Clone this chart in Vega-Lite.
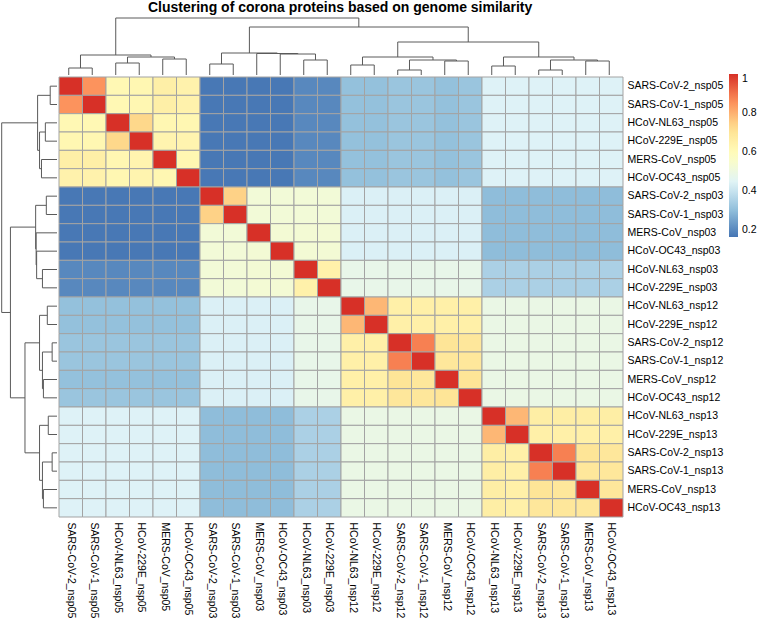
{
"$schema":"https://vega.github.io/schema/vega-lite/v6.json",
"padding":{"left":0,"top":0,"right":0,"bottom":0},
"background":"white",
"title":{"text":"Clustering of corona proteins based on genome similarity","anchor":"start","dx":148,"fontSize":14,"font":"Liberation Sans","fontWeight":"bold","color":"black","offset":3},
"config":{"view":{"stroke":null},"concat":{"spacing":0},"axis":{"labelFont":"Liberation Sans","labelFontSize":10.5,"labelColor":"black"},"legend":{"labelFont":"Liberation Sans"}},
"datasets":{
"dend":[
{"p1":0.5,"p2":0.5,"h1":0,"h2":7},{"p1":1.5,"p2":1.5,"h1":0,"h2":7},{"p1":0.5,"p2":1.5,"h1":7,"h2":7},
{"p1":2.5,"p2":2.5,"h1":0,"h2":12},{"p1":3.5,"p2":3.5,"h1":0,"h2":12},{"p1":2.5,"p2":3.5,"h1":12,"h2":12},
{"p1":4.5,"p2":4.5,"h1":0,"h2":16},{"p1":5.5,"p2":5.5,"h1":0,"h2":16},{"p1":4.5,"p2":5.5,"h1":16,"h2":16},
{"p1":3,"p2":3,"h1":12,"h2":18},{"p1":5,"p2":5,"h1":16,"h2":18},{"p1":3,"p2":5,"h1":18,"h2":18},
{"p1":1,"p2":1,"h1":7,"h2":20},{"p1":4,"p2":4,"h1":18,"h2":20},{"p1":1,"p2":4,"h1":20,"h2":20},
{"p1":6.5,"p2":6.5,"h1":0,"h2":11},{"p1":7.5,"p2":7.5,"h1":0,"h2":11},{"p1":6.5,"p2":7.5,"h1":11,"h2":11},
{"p1":10.5,"p2":10.5,"h1":0,"h2":15},{"p1":11.5,"p2":11.5,"h1":0,"h2":15},{"p1":10.5,"p2":11.5,"h1":15,"h2":15},
{"p1":9.5,"p2":9.5,"h1":0,"h2":21},{"p1":11,"p2":11,"h1":15,"h2":21},{"p1":9.5,"p2":11,"h1":21,"h2":21},
{"p1":8.5,"p2":8.5,"h1":0,"h2":21.5},{"p1":10.25,"p2":10.25,"h1":21,"h2":21.5},{"p1":8.5,"p2":10.25,"h1":21.5,"h2":21.5},
{"p1":7,"p2":7,"h1":11,"h2":22},{"p1":9.375,"p2":9.375,"h1":21.5,"h2":22},{"p1":7,"p2":9.375,"h1":22,"h2":22},
{"p1":12.5,"p2":12.5,"h1":0,"h2":10},{"p1":13.5,"p2":13.5,"h1":0,"h2":10},{"p1":12.5,"p2":13.5,"h1":10,"h2":10},
{"p1":14.5,"p2":14.5,"h1":0,"h2":5},{"p1":15.5,"p2":15.5,"h1":0,"h2":5},{"p1":14.5,"p2":15.5,"h1":5,"h2":5},
{"p1":16.5,"p2":16.5,"h1":0,"h2":14},{"p1":17.5,"p2":17.5,"h1":0,"h2":14},{"p1":16.5,"p2":17.5,"h1":14,"h2":14},
{"p1":15,"p2":15,"h1":5,"h2":15},{"p1":17,"p2":17,"h1":14,"h2":15},{"p1":15,"p2":17,"h1":15,"h2":15},
{"p1":13,"p2":13,"h1":10,"h2":18},{"p1":16,"p2":16,"h1":15,"h2":18},{"p1":13,"p2":16,"h1":18,"h2":18},
{"p1":18.5,"p2":18.5,"h1":0,"h2":9},{"p1":19.5,"p2":19.5,"h1":0,"h2":9},{"p1":18.5,"p2":19.5,"h1":9,"h2":9},
{"p1":20.5,"p2":20.5,"h1":0,"h2":5},{"p1":21.5,"p2":21.5,"h1":0,"h2":5},{"p1":20.5,"p2":21.5,"h1":5,"h2":5},
{"p1":22.5,"p2":22.5,"h1":0,"h2":14},{"p1":23.5,"p2":23.5,"h1":0,"h2":14},{"p1":22.5,"p2":23.5,"h1":14,"h2":14},
{"p1":21,"p2":21,"h1":5,"h2":15},{"p1":23,"p2":23,"h1":14,"h2":15},{"p1":21,"p2":23,"h1":15,"h2":15},
{"p1":19,"p2":19,"h1":9,"h2":18},{"p1":22,"p2":22,"h1":15,"h2":18},{"p1":19,"p2":22,"h1":18,"h2":18},
{"p1":14.5,"p2":14.5,"h1":18,"h2":33},{"p1":20.5,"p2":20.5,"h1":18,"h2":33},{"p1":14.5,"p2":20.5,"h1":33,"h2":33},
{"p1":8.1875,"p2":8.1875,"h1":22,"h2":48},{"p1":17.5,"p2":17.5,"h1":33,"h2":48},{"p1":8.1875,"p2":17.5,"h1":48,"h2":48},
{"p1":2.5,"p2":2.5,"h1":20,"h2":57},{"p1":12.84375,"p2":12.84375,"h1":48,"h2":57},{"p1":2.5,"p2":12.84375,"h1":57,"h2":57}
],
"cells":[
{"r":"SARS-CoV-2_nsp05","c":"SARS-CoV-2_nsp05","v":1},{"r":"SARS-CoV-2_nsp05","c":"SARS-CoV-1_nsp05","v":0.85},{"r":"SARS-CoV-2_nsp05","c":"HCoV-NL63_nsp05","v":0.615},{"r":"SARS-CoV-2_nsp05","c":"HCoV-229E_nsp05","v":0.62},{"r":"SARS-CoV-2_nsp05","c":"MERS-CoV_nsp05","v":0.655},{"r":"SARS-CoV-2_nsp05","c":"HCoV-OC43_nsp05","v":0.64},{"r":"SARS-CoV-2_nsp05","c":"SARS-CoV-2_nsp03","v":0.17},{"r":"SARS-CoV-2_nsp05","c":"SARS-CoV-1_nsp03","v":0.17},{"r":"SARS-CoV-2_nsp05","c":"MERS-CoV_nsp03","v":0.17},{"r":"SARS-CoV-2_nsp05","c":"HCoV-OC43_nsp03","v":0.17},{"r":"SARS-CoV-2_nsp05","c":"HCoV-NL63_nsp03","v":0.2},{"r":"SARS-CoV-2_nsp05","c":"HCoV-229E_nsp03","v":0.2},{"r":"SARS-CoV-2_nsp05","c":"HCoV-NL63_nsp12","v":0.31},{"r":"SARS-CoV-2_nsp05","c":"HCoV-229E_nsp12","v":0.31},{"r":"SARS-CoV-2_nsp05","c":"SARS-CoV-2_nsp12","v":0.32},{"r":"SARS-CoV-2_nsp05","c":"SARS-CoV-1_nsp12","v":0.32},{"r":"SARS-CoV-2_nsp05","c":"MERS-CoV_nsp12","v":0.31},{"r":"SARS-CoV-2_nsp05","c":"HCoV-OC43_nsp12","v":0.32},{"r":"SARS-CoV-2_nsp05","c":"HCoV-NL63_nsp13","v":0.44},{"r":"SARS-CoV-2_nsp05","c":"HCoV-229E_nsp13","v":0.44},{"r":"SARS-CoV-2_nsp05","c":"SARS-CoV-2_nsp13","v":0.44},{"r":"SARS-CoV-2_nsp05","c":"SARS-CoV-1_nsp13","v":0.44},{"r":"SARS-CoV-2_nsp05","c":"MERS-CoV_nsp13","v":0.44},{"r":"SARS-CoV-2_nsp05","c":"HCoV-OC43_nsp13","v":0.44},
{"r":"SARS-CoV-1_nsp05","c":"SARS-CoV-2_nsp05","v":0.85},{"r":"SARS-CoV-1_nsp05","c":"SARS-CoV-1_nsp05","v":1},{"r":"SARS-CoV-1_nsp05","c":"HCoV-NL63_nsp05","v":0.615},{"r":"SARS-CoV-1_nsp05","c":"HCoV-229E_nsp05","v":0.62},{"r":"SARS-CoV-1_nsp05","c":"MERS-CoV_nsp05","v":0.655},{"r":"SARS-CoV-1_nsp05","c":"HCoV-OC43_nsp05","v":0.64},{"r":"SARS-CoV-1_nsp05","c":"SARS-CoV-2_nsp03","v":0.17},{"r":"SARS-CoV-1_nsp05","c":"SARS-CoV-1_nsp03","v":0.17},{"r":"SARS-CoV-1_nsp05","c":"MERS-CoV_nsp03","v":0.17},{"r":"SARS-CoV-1_nsp05","c":"HCoV-OC43_nsp03","v":0.17},{"r":"SARS-CoV-1_nsp05","c":"HCoV-NL63_nsp03","v":0.2},{"r":"SARS-CoV-1_nsp05","c":"HCoV-229E_nsp03","v":0.2},{"r":"SARS-CoV-1_nsp05","c":"HCoV-NL63_nsp12","v":0.31},{"r":"SARS-CoV-1_nsp05","c":"HCoV-229E_nsp12","v":0.31},{"r":"SARS-CoV-1_nsp05","c":"SARS-CoV-2_nsp12","v":0.32},{"r":"SARS-CoV-1_nsp05","c":"SARS-CoV-1_nsp12","v":0.32},{"r":"SARS-CoV-1_nsp05","c":"MERS-CoV_nsp12","v":0.31},{"r":"SARS-CoV-1_nsp05","c":"HCoV-OC43_nsp12","v":0.32},{"r":"SARS-CoV-1_nsp05","c":"HCoV-NL63_nsp13","v":0.44},{"r":"SARS-CoV-1_nsp05","c":"HCoV-229E_nsp13","v":0.44},{"r":"SARS-CoV-1_nsp05","c":"SARS-CoV-2_nsp13","v":0.44},{"r":"SARS-CoV-1_nsp05","c":"SARS-CoV-1_nsp13","v":0.44},{"r":"SARS-CoV-1_nsp05","c":"MERS-CoV_nsp13","v":0.44},{"r":"SARS-CoV-1_nsp05","c":"HCoV-OC43_nsp13","v":0.44},
{"r":"HCoV-NL63_nsp05","c":"SARS-CoV-2_nsp05","v":0.615},{"r":"HCoV-NL63_nsp05","c":"SARS-CoV-1_nsp05","v":0.615},{"r":"HCoV-NL63_nsp05","c":"HCoV-NL63_nsp05","v":1},{"r":"HCoV-NL63_nsp05","c":"HCoV-229E_nsp05","v":0.735},{"r":"HCoV-NL63_nsp05","c":"MERS-CoV_nsp05","v":0.62},{"r":"HCoV-NL63_nsp05","c":"HCoV-OC43_nsp05","v":0.62},{"r":"HCoV-NL63_nsp05","c":"SARS-CoV-2_nsp03","v":0.17},{"r":"HCoV-NL63_nsp05","c":"SARS-CoV-1_nsp03","v":0.17},{"r":"HCoV-NL63_nsp05","c":"MERS-CoV_nsp03","v":0.17},{"r":"HCoV-NL63_nsp05","c":"HCoV-OC43_nsp03","v":0.17},{"r":"HCoV-NL63_nsp05","c":"HCoV-NL63_nsp03","v":0.2},{"r":"HCoV-NL63_nsp05","c":"HCoV-229E_nsp03","v":0.2},{"r":"HCoV-NL63_nsp05","c":"HCoV-NL63_nsp12","v":0.31},{"r":"HCoV-NL63_nsp05","c":"HCoV-229E_nsp12","v":0.31},{"r":"HCoV-NL63_nsp05","c":"SARS-CoV-2_nsp12","v":0.32},{"r":"HCoV-NL63_nsp05","c":"SARS-CoV-1_nsp12","v":0.32},{"r":"HCoV-NL63_nsp05","c":"MERS-CoV_nsp12","v":0.31},{"r":"HCoV-NL63_nsp05","c":"HCoV-OC43_nsp12","v":0.32},{"r":"HCoV-NL63_nsp05","c":"HCoV-NL63_nsp13","v":0.44},{"r":"HCoV-NL63_nsp05","c":"HCoV-229E_nsp13","v":0.44},{"r":"HCoV-NL63_nsp05","c":"SARS-CoV-2_nsp13","v":0.44},{"r":"HCoV-NL63_nsp05","c":"SARS-CoV-1_nsp13","v":0.44},{"r":"HCoV-NL63_nsp05","c":"MERS-CoV_nsp13","v":0.44},{"r":"HCoV-NL63_nsp05","c":"HCoV-OC43_nsp13","v":0.44},
{"r":"HCoV-229E_nsp05","c":"SARS-CoV-2_nsp05","v":0.62},{"r":"HCoV-229E_nsp05","c":"SARS-CoV-1_nsp05","v":0.62},{"r":"HCoV-229E_nsp05","c":"HCoV-NL63_nsp05","v":0.735},{"r":"HCoV-229E_nsp05","c":"HCoV-229E_nsp05","v":1},{"r":"HCoV-229E_nsp05","c":"MERS-CoV_nsp05","v":0.63},{"r":"HCoV-229E_nsp05","c":"HCoV-OC43_nsp05","v":0.63},{"r":"HCoV-229E_nsp05","c":"SARS-CoV-2_nsp03","v":0.17},{"r":"HCoV-229E_nsp05","c":"SARS-CoV-1_nsp03","v":0.17},{"r":"HCoV-229E_nsp05","c":"MERS-CoV_nsp03","v":0.17},{"r":"HCoV-229E_nsp05","c":"HCoV-OC43_nsp03","v":0.17},{"r":"HCoV-229E_nsp05","c":"HCoV-NL63_nsp03","v":0.2},{"r":"HCoV-229E_nsp05","c":"HCoV-229E_nsp03","v":0.2},{"r":"HCoV-229E_nsp05","c":"HCoV-NL63_nsp12","v":0.31},{"r":"HCoV-229E_nsp05","c":"HCoV-229E_nsp12","v":0.31},{"r":"HCoV-229E_nsp05","c":"SARS-CoV-2_nsp12","v":0.32},{"r":"HCoV-229E_nsp05","c":"SARS-CoV-1_nsp12","v":0.32},{"r":"HCoV-229E_nsp05","c":"MERS-CoV_nsp12","v":0.31},{"r":"HCoV-229E_nsp05","c":"HCoV-OC43_nsp12","v":0.32},{"r":"HCoV-229E_nsp05","c":"HCoV-NL63_nsp13","v":0.44},{"r":"HCoV-229E_nsp05","c":"HCoV-229E_nsp13","v":0.44},{"r":"HCoV-229E_nsp05","c":"SARS-CoV-2_nsp13","v":0.44},{"r":"HCoV-229E_nsp05","c":"SARS-CoV-1_nsp13","v":0.44},{"r":"HCoV-229E_nsp05","c":"MERS-CoV_nsp13","v":0.44},{"r":"HCoV-229E_nsp05","c":"HCoV-OC43_nsp13","v":0.44},
{"r":"MERS-CoV_nsp05","c":"SARS-CoV-2_nsp05","v":0.655},{"r":"MERS-CoV_nsp05","c":"SARS-CoV-1_nsp05","v":0.655},{"r":"MERS-CoV_nsp05","c":"HCoV-NL63_nsp05","v":0.62},{"r":"MERS-CoV_nsp05","c":"HCoV-229E_nsp05","v":0.63},{"r":"MERS-CoV_nsp05","c":"MERS-CoV_nsp05","v":1},{"r":"MERS-CoV_nsp05","c":"HCoV-OC43_nsp05","v":0.62},{"r":"MERS-CoV_nsp05","c":"SARS-CoV-2_nsp03","v":0.17},{"r":"MERS-CoV_nsp05","c":"SARS-CoV-1_nsp03","v":0.17},{"r":"MERS-CoV_nsp05","c":"MERS-CoV_nsp03","v":0.17},{"r":"MERS-CoV_nsp05","c":"HCoV-OC43_nsp03","v":0.17},{"r":"MERS-CoV_nsp05","c":"HCoV-NL63_nsp03","v":0.2},{"r":"MERS-CoV_nsp05","c":"HCoV-229E_nsp03","v":0.2},{"r":"MERS-CoV_nsp05","c":"HCoV-NL63_nsp12","v":0.31},{"r":"MERS-CoV_nsp05","c":"HCoV-229E_nsp12","v":0.31},{"r":"MERS-CoV_nsp05","c":"SARS-CoV-2_nsp12","v":0.32},{"r":"MERS-CoV_nsp05","c":"SARS-CoV-1_nsp12","v":0.32},{"r":"MERS-CoV_nsp05","c":"MERS-CoV_nsp12","v":0.31},{"r":"MERS-CoV_nsp05","c":"HCoV-OC43_nsp12","v":0.32},{"r":"MERS-CoV_nsp05","c":"HCoV-NL63_nsp13","v":0.44},{"r":"MERS-CoV_nsp05","c":"HCoV-229E_nsp13","v":0.44},{"r":"MERS-CoV_nsp05","c":"SARS-CoV-2_nsp13","v":0.44},{"r":"MERS-CoV_nsp05","c":"SARS-CoV-1_nsp13","v":0.44},{"r":"MERS-CoV_nsp05","c":"MERS-CoV_nsp13","v":0.44},{"r":"MERS-CoV_nsp05","c":"HCoV-OC43_nsp13","v":0.44},
{"r":"HCoV-OC43_nsp05","c":"SARS-CoV-2_nsp05","v":0.64},{"r":"HCoV-OC43_nsp05","c":"SARS-CoV-1_nsp05","v":0.64},{"r":"HCoV-OC43_nsp05","c":"HCoV-NL63_nsp05","v":0.62},{"r":"HCoV-OC43_nsp05","c":"HCoV-229E_nsp05","v":0.63},{"r":"HCoV-OC43_nsp05","c":"MERS-CoV_nsp05","v":0.62},{"r":"HCoV-OC43_nsp05","c":"HCoV-OC43_nsp05","v":1},{"r":"HCoV-OC43_nsp05","c":"SARS-CoV-2_nsp03","v":0.17},{"r":"HCoV-OC43_nsp05","c":"SARS-CoV-1_nsp03","v":0.17},{"r":"HCoV-OC43_nsp05","c":"MERS-CoV_nsp03","v":0.17},{"r":"HCoV-OC43_nsp05","c":"HCoV-OC43_nsp03","v":0.17},{"r":"HCoV-OC43_nsp05","c":"HCoV-NL63_nsp03","v":0.2},{"r":"HCoV-OC43_nsp05","c":"HCoV-229E_nsp03","v":0.2},{"r":"HCoV-OC43_nsp05","c":"HCoV-NL63_nsp12","v":0.31},{"r":"HCoV-OC43_nsp05","c":"HCoV-229E_nsp12","v":0.31},{"r":"HCoV-OC43_nsp05","c":"SARS-CoV-2_nsp12","v":0.32},{"r":"HCoV-OC43_nsp05","c":"SARS-CoV-1_nsp12","v":0.32},{"r":"HCoV-OC43_nsp05","c":"MERS-CoV_nsp12","v":0.31},{"r":"HCoV-OC43_nsp05","c":"HCoV-OC43_nsp12","v":0.32},{"r":"HCoV-OC43_nsp05","c":"HCoV-NL63_nsp13","v":0.44},{"r":"HCoV-OC43_nsp05","c":"HCoV-229E_nsp13","v":0.44},{"r":"HCoV-OC43_nsp05","c":"SARS-CoV-2_nsp13","v":0.44},{"r":"HCoV-OC43_nsp05","c":"SARS-CoV-1_nsp13","v":0.44},{"r":"HCoV-OC43_nsp05","c":"MERS-CoV_nsp13","v":0.44},{"r":"HCoV-OC43_nsp05","c":"HCoV-OC43_nsp13","v":0.44},
{"r":"SARS-CoV-2_nsp03","c":"SARS-CoV-2_nsp05","v":0.17},{"r":"SARS-CoV-2_nsp03","c":"SARS-CoV-1_nsp05","v":0.17},{"r":"SARS-CoV-2_nsp03","c":"HCoV-NL63_nsp05","v":0.17},{"r":"SARS-CoV-2_nsp03","c":"HCoV-229E_nsp05","v":0.17},{"r":"SARS-CoV-2_nsp03","c":"MERS-CoV_nsp05","v":0.17},{"r":"SARS-CoV-2_nsp03","c":"HCoV-OC43_nsp05","v":0.17},{"r":"SARS-CoV-2_nsp03","c":"SARS-CoV-2_nsp03","v":1},{"r":"SARS-CoV-2_nsp03","c":"SARS-CoV-1_nsp03","v":0.745},{"r":"SARS-CoV-2_nsp03","c":"MERS-CoV_nsp03","v":0.525},{"r":"SARS-CoV-2_nsp03","c":"HCoV-OC43_nsp03","v":0.525},{"r":"SARS-CoV-2_nsp03","c":"HCoV-NL63_nsp03","v":0.525},{"r":"SARS-CoV-2_nsp03","c":"HCoV-229E_nsp03","v":0.525},{"r":"SARS-CoV-2_nsp03","c":"HCoV-NL63_nsp12","v":0.435},{"r":"SARS-CoV-2_nsp03","c":"HCoV-229E_nsp12","v":0.435},{"r":"SARS-CoV-2_nsp03","c":"SARS-CoV-2_nsp12","v":0.435},{"r":"SARS-CoV-2_nsp03","c":"SARS-CoV-1_nsp12","v":0.435},{"r":"SARS-CoV-2_nsp03","c":"MERS-CoV_nsp12","v":0.435},{"r":"SARS-CoV-2_nsp03","c":"HCoV-OC43_nsp12","v":0.435},{"r":"SARS-CoV-2_nsp03","c":"HCoV-NL63_nsp13","v":0.3},{"r":"SARS-CoV-2_nsp03","c":"HCoV-229E_nsp13","v":0.3},{"r":"SARS-CoV-2_nsp03","c":"SARS-CoV-2_nsp13","v":0.3},{"r":"SARS-CoV-2_nsp03","c":"SARS-CoV-1_nsp13","v":0.3},{"r":"SARS-CoV-2_nsp03","c":"MERS-CoV_nsp13","v":0.3},{"r":"SARS-CoV-2_nsp03","c":"HCoV-OC43_nsp13","v":0.3},
{"r":"SARS-CoV-1_nsp03","c":"SARS-CoV-2_nsp05","v":0.17},{"r":"SARS-CoV-1_nsp03","c":"SARS-CoV-1_nsp05","v":0.17},{"r":"SARS-CoV-1_nsp03","c":"HCoV-NL63_nsp05","v":0.17},{"r":"SARS-CoV-1_nsp03","c":"HCoV-229E_nsp05","v":0.17},{"r":"SARS-CoV-1_nsp03","c":"MERS-CoV_nsp05","v":0.17},{"r":"SARS-CoV-1_nsp03","c":"HCoV-OC43_nsp05","v":0.17},{"r":"SARS-CoV-1_nsp03","c":"SARS-CoV-2_nsp03","v":0.745},{"r":"SARS-CoV-1_nsp03","c":"SARS-CoV-1_nsp03","v":1},{"r":"SARS-CoV-1_nsp03","c":"MERS-CoV_nsp03","v":0.525},{"r":"SARS-CoV-1_nsp03","c":"HCoV-OC43_nsp03","v":0.525},{"r":"SARS-CoV-1_nsp03","c":"HCoV-NL63_nsp03","v":0.525},{"r":"SARS-CoV-1_nsp03","c":"HCoV-229E_nsp03","v":0.525},{"r":"SARS-CoV-1_nsp03","c":"HCoV-NL63_nsp12","v":0.435},{"r":"SARS-CoV-1_nsp03","c":"HCoV-229E_nsp12","v":0.435},{"r":"SARS-CoV-1_nsp03","c":"SARS-CoV-2_nsp12","v":0.435},{"r":"SARS-CoV-1_nsp03","c":"SARS-CoV-1_nsp12","v":0.435},{"r":"SARS-CoV-1_nsp03","c":"MERS-CoV_nsp12","v":0.435},{"r":"SARS-CoV-1_nsp03","c":"HCoV-OC43_nsp12","v":0.435},{"r":"SARS-CoV-1_nsp03","c":"HCoV-NL63_nsp13","v":0.3},{"r":"SARS-CoV-1_nsp03","c":"HCoV-229E_nsp13","v":0.3},{"r":"SARS-CoV-1_nsp03","c":"SARS-CoV-2_nsp13","v":0.3},{"r":"SARS-CoV-1_nsp03","c":"SARS-CoV-1_nsp13","v":0.3},{"r":"SARS-CoV-1_nsp03","c":"MERS-CoV_nsp13","v":0.3},{"r":"SARS-CoV-1_nsp03","c":"HCoV-OC43_nsp13","v":0.3},
{"r":"MERS-CoV_nsp03","c":"SARS-CoV-2_nsp05","v":0.17},{"r":"MERS-CoV_nsp03","c":"SARS-CoV-1_nsp05","v":0.17},{"r":"MERS-CoV_nsp03","c":"HCoV-NL63_nsp05","v":0.17},{"r":"MERS-CoV_nsp03","c":"HCoV-229E_nsp05","v":0.17},{"r":"MERS-CoV_nsp03","c":"MERS-CoV_nsp05","v":0.17},{"r":"MERS-CoV_nsp03","c":"HCoV-OC43_nsp05","v":0.17},{"r":"MERS-CoV_nsp03","c":"SARS-CoV-2_nsp03","v":0.525},{"r":"MERS-CoV_nsp03","c":"SARS-CoV-1_nsp03","v":0.525},{"r":"MERS-CoV_nsp03","c":"MERS-CoV_nsp03","v":1},{"r":"MERS-CoV_nsp03","c":"HCoV-OC43_nsp03","v":0.53},{"r":"MERS-CoV_nsp03","c":"HCoV-NL63_nsp03","v":0.53},{"r":"MERS-CoV_nsp03","c":"HCoV-229E_nsp03","v":0.53},{"r":"MERS-CoV_nsp03","c":"HCoV-NL63_nsp12","v":0.435},{"r":"MERS-CoV_nsp03","c":"HCoV-229E_nsp12","v":0.435},{"r":"MERS-CoV_nsp03","c":"SARS-CoV-2_nsp12","v":0.435},{"r":"MERS-CoV_nsp03","c":"SARS-CoV-1_nsp12","v":0.435},{"r":"MERS-CoV_nsp03","c":"MERS-CoV_nsp12","v":0.435},{"r":"MERS-CoV_nsp03","c":"HCoV-OC43_nsp12","v":0.435},{"r":"MERS-CoV_nsp03","c":"HCoV-NL63_nsp13","v":0.3},{"r":"MERS-CoV_nsp03","c":"HCoV-229E_nsp13","v":0.3},{"r":"MERS-CoV_nsp03","c":"SARS-CoV-2_nsp13","v":0.3},{"r":"MERS-CoV_nsp03","c":"SARS-CoV-1_nsp13","v":0.3},{"r":"MERS-CoV_nsp03","c":"MERS-CoV_nsp13","v":0.3},{"r":"MERS-CoV_nsp03","c":"HCoV-OC43_nsp13","v":0.3},
{"r":"HCoV-OC43_nsp03","c":"SARS-CoV-2_nsp05","v":0.17},{"r":"HCoV-OC43_nsp03","c":"SARS-CoV-1_nsp05","v":0.17},{"r":"HCoV-OC43_nsp03","c":"HCoV-NL63_nsp05","v":0.17},{"r":"HCoV-OC43_nsp03","c":"HCoV-229E_nsp05","v":0.17},{"r":"HCoV-OC43_nsp03","c":"MERS-CoV_nsp05","v":0.17},{"r":"HCoV-OC43_nsp03","c":"HCoV-OC43_nsp05","v":0.17},{"r":"HCoV-OC43_nsp03","c":"SARS-CoV-2_nsp03","v":0.525},{"r":"HCoV-OC43_nsp03","c":"SARS-CoV-1_nsp03","v":0.525},{"r":"HCoV-OC43_nsp03","c":"MERS-CoV_nsp03","v":0.53},{"r":"HCoV-OC43_nsp03","c":"HCoV-OC43_nsp03","v":1},{"r":"HCoV-OC43_nsp03","c":"HCoV-NL63_nsp03","v":0.53},{"r":"HCoV-OC43_nsp03","c":"HCoV-229E_nsp03","v":0.53},{"r":"HCoV-OC43_nsp03","c":"HCoV-NL63_nsp12","v":0.435},{"r":"HCoV-OC43_nsp03","c":"HCoV-229E_nsp12","v":0.435},{"r":"HCoV-OC43_nsp03","c":"SARS-CoV-2_nsp12","v":0.435},{"r":"HCoV-OC43_nsp03","c":"SARS-CoV-1_nsp12","v":0.435},{"r":"HCoV-OC43_nsp03","c":"MERS-CoV_nsp12","v":0.435},{"r":"HCoV-OC43_nsp03","c":"HCoV-OC43_nsp12","v":0.435},{"r":"HCoV-OC43_nsp03","c":"HCoV-NL63_nsp13","v":0.3},{"r":"HCoV-OC43_nsp03","c":"HCoV-229E_nsp13","v":0.3},{"r":"HCoV-OC43_nsp03","c":"SARS-CoV-2_nsp13","v":0.3},{"r":"HCoV-OC43_nsp03","c":"SARS-CoV-1_nsp13","v":0.3},{"r":"HCoV-OC43_nsp03","c":"MERS-CoV_nsp13","v":0.3},{"r":"HCoV-OC43_nsp03","c":"HCoV-OC43_nsp13","v":0.3},
{"r":"HCoV-NL63_nsp03","c":"SARS-CoV-2_nsp05","v":0.2},{"r":"HCoV-NL63_nsp03","c":"SARS-CoV-1_nsp05","v":0.2},{"r":"HCoV-NL63_nsp03","c":"HCoV-NL63_nsp05","v":0.2},{"r":"HCoV-NL63_nsp03","c":"HCoV-229E_nsp05","v":0.2},{"r":"HCoV-NL63_nsp03","c":"MERS-CoV_nsp05","v":0.2},{"r":"HCoV-NL63_nsp03","c":"HCoV-OC43_nsp05","v":0.2},{"r":"HCoV-NL63_nsp03","c":"SARS-CoV-2_nsp03","v":0.525},{"r":"HCoV-NL63_nsp03","c":"SARS-CoV-1_nsp03","v":0.525},{"r":"HCoV-NL63_nsp03","c":"MERS-CoV_nsp03","v":0.53},{"r":"HCoV-NL63_nsp03","c":"HCoV-OC43_nsp03","v":0.53},{"r":"HCoV-NL63_nsp03","c":"HCoV-NL63_nsp03","v":1},{"r":"HCoV-NL63_nsp03","c":"HCoV-229E_nsp03","v":0.645},{"r":"HCoV-NL63_nsp03","c":"HCoV-NL63_nsp12","v":0.48},{"r":"HCoV-NL63_nsp03","c":"HCoV-229E_nsp12","v":0.48},{"r":"HCoV-NL63_nsp03","c":"SARS-CoV-2_nsp12","v":0.48},{"r":"HCoV-NL63_nsp03","c":"SARS-CoV-1_nsp12","v":0.48},{"r":"HCoV-NL63_nsp03","c":"MERS-CoV_nsp12","v":0.48},{"r":"HCoV-NL63_nsp03","c":"HCoV-OC43_nsp12","v":0.48},{"r":"HCoV-NL63_nsp03","c":"HCoV-NL63_nsp13","v":0.35},{"r":"HCoV-NL63_nsp03","c":"HCoV-229E_nsp13","v":0.35},{"r":"HCoV-NL63_nsp03","c":"SARS-CoV-2_nsp13","v":0.35},{"r":"HCoV-NL63_nsp03","c":"SARS-CoV-1_nsp13","v":0.35},{"r":"HCoV-NL63_nsp03","c":"MERS-CoV_nsp13","v":0.35},{"r":"HCoV-NL63_nsp03","c":"HCoV-OC43_nsp13","v":0.35},
{"r":"HCoV-229E_nsp03","c":"SARS-CoV-2_nsp05","v":0.2},{"r":"HCoV-229E_nsp03","c":"SARS-CoV-1_nsp05","v":0.2},{"r":"HCoV-229E_nsp03","c":"HCoV-NL63_nsp05","v":0.2},{"r":"HCoV-229E_nsp03","c":"HCoV-229E_nsp05","v":0.2},{"r":"HCoV-229E_nsp03","c":"MERS-CoV_nsp05","v":0.2},{"r":"HCoV-229E_nsp03","c":"HCoV-OC43_nsp05","v":0.2},{"r":"HCoV-229E_nsp03","c":"SARS-CoV-2_nsp03","v":0.525},{"r":"HCoV-229E_nsp03","c":"SARS-CoV-1_nsp03","v":0.525},{"r":"HCoV-229E_nsp03","c":"MERS-CoV_nsp03","v":0.53},{"r":"HCoV-229E_nsp03","c":"HCoV-OC43_nsp03","v":0.53},{"r":"HCoV-229E_nsp03","c":"HCoV-NL63_nsp03","v":0.645},{"r":"HCoV-229E_nsp03","c":"HCoV-229E_nsp03","v":1},{"r":"HCoV-229E_nsp03","c":"HCoV-NL63_nsp12","v":0.48},{"r":"HCoV-229E_nsp03","c":"HCoV-229E_nsp12","v":0.48},{"r":"HCoV-229E_nsp03","c":"SARS-CoV-2_nsp12","v":0.48},{"r":"HCoV-229E_nsp03","c":"SARS-CoV-1_nsp12","v":0.48},{"r":"HCoV-229E_nsp03","c":"MERS-CoV_nsp12","v":0.48},{"r":"HCoV-229E_nsp03","c":"HCoV-OC43_nsp12","v":0.48},{"r":"HCoV-229E_nsp03","c":"HCoV-NL63_nsp13","v":0.35},{"r":"HCoV-229E_nsp03","c":"HCoV-229E_nsp13","v":0.35},{"r":"HCoV-229E_nsp03","c":"SARS-CoV-2_nsp13","v":0.35},{"r":"HCoV-229E_nsp03","c":"SARS-CoV-1_nsp13","v":0.35},{"r":"HCoV-229E_nsp03","c":"MERS-CoV_nsp13","v":0.35},{"r":"HCoV-229E_nsp03","c":"HCoV-OC43_nsp13","v":0.35},
{"r":"HCoV-NL63_nsp12","c":"SARS-CoV-2_nsp05","v":0.31},{"r":"HCoV-NL63_nsp12","c":"SARS-CoV-1_nsp05","v":0.31},{"r":"HCoV-NL63_nsp12","c":"HCoV-NL63_nsp05","v":0.31},{"r":"HCoV-NL63_nsp12","c":"HCoV-229E_nsp05","v":0.31},{"r":"HCoV-NL63_nsp12","c":"MERS-CoV_nsp05","v":0.31},{"r":"HCoV-NL63_nsp12","c":"HCoV-OC43_nsp05","v":0.31},{"r":"HCoV-NL63_nsp12","c":"SARS-CoV-2_nsp03","v":0.435},{"r":"HCoV-NL63_nsp12","c":"SARS-CoV-1_nsp03","v":0.435},{"r":"HCoV-NL63_nsp12","c":"MERS-CoV_nsp03","v":0.435},{"r":"HCoV-NL63_nsp12","c":"HCoV-OC43_nsp03","v":0.435},{"r":"HCoV-NL63_nsp12","c":"HCoV-NL63_nsp03","v":0.48},{"r":"HCoV-NL63_nsp12","c":"HCoV-229E_nsp03","v":0.48},{"r":"HCoV-NL63_nsp12","c":"HCoV-NL63_nsp12","v":1},{"r":"HCoV-NL63_nsp12","c":"HCoV-229E_nsp12","v":0.79},{"r":"HCoV-NL63_nsp12","c":"SARS-CoV-2_nsp12","v":0.65},{"r":"HCoV-NL63_nsp12","c":"SARS-CoV-1_nsp12","v":0.65},{"r":"HCoV-NL63_nsp12","c":"MERS-CoV_nsp12","v":0.65},{"r":"HCoV-NL63_nsp12","c":"HCoV-OC43_nsp12","v":0.65},{"r":"HCoV-NL63_nsp12","c":"HCoV-NL63_nsp13","v":0.49},{"r":"HCoV-NL63_nsp12","c":"HCoV-229E_nsp13","v":0.49},{"r":"HCoV-NL63_nsp12","c":"SARS-CoV-2_nsp13","v":0.49},{"r":"HCoV-NL63_nsp12","c":"SARS-CoV-1_nsp13","v":0.49},{"r":"HCoV-NL63_nsp12","c":"MERS-CoV_nsp13","v":0.49},{"r":"HCoV-NL63_nsp12","c":"HCoV-OC43_nsp13","v":0.49},
{"r":"HCoV-229E_nsp12","c":"SARS-CoV-2_nsp05","v":0.31},{"r":"HCoV-229E_nsp12","c":"SARS-CoV-1_nsp05","v":0.31},{"r":"HCoV-229E_nsp12","c":"HCoV-NL63_nsp05","v":0.31},{"r":"HCoV-229E_nsp12","c":"HCoV-229E_nsp05","v":0.31},{"r":"HCoV-229E_nsp12","c":"MERS-CoV_nsp05","v":0.31},{"r":"HCoV-229E_nsp12","c":"HCoV-OC43_nsp05","v":0.31},{"r":"HCoV-229E_nsp12","c":"SARS-CoV-2_nsp03","v":0.435},{"r":"HCoV-229E_nsp12","c":"SARS-CoV-1_nsp03","v":0.435},{"r":"HCoV-229E_nsp12","c":"MERS-CoV_nsp03","v":0.435},{"r":"HCoV-229E_nsp12","c":"HCoV-OC43_nsp03","v":0.435},{"r":"HCoV-229E_nsp12","c":"HCoV-NL63_nsp03","v":0.48},{"r":"HCoV-229E_nsp12","c":"HCoV-229E_nsp03","v":0.48},{"r":"HCoV-229E_nsp12","c":"HCoV-NL63_nsp12","v":0.79},{"r":"HCoV-229E_nsp12","c":"HCoV-229E_nsp12","v":1},{"r":"HCoV-229E_nsp12","c":"SARS-CoV-2_nsp12","v":0.65},{"r":"HCoV-229E_nsp12","c":"SARS-CoV-1_nsp12","v":0.65},{"r":"HCoV-229E_nsp12","c":"MERS-CoV_nsp12","v":0.65},{"r":"HCoV-229E_nsp12","c":"HCoV-OC43_nsp12","v":0.65},{"r":"HCoV-229E_nsp12","c":"HCoV-NL63_nsp13","v":0.49},{"r":"HCoV-229E_nsp12","c":"HCoV-229E_nsp13","v":0.49},{"r":"HCoV-229E_nsp12","c":"SARS-CoV-2_nsp13","v":0.49},{"r":"HCoV-229E_nsp12","c":"SARS-CoV-1_nsp13","v":0.49},{"r":"HCoV-229E_nsp12","c":"MERS-CoV_nsp13","v":0.49},{"r":"HCoV-229E_nsp12","c":"HCoV-OC43_nsp13","v":0.49},
{"r":"SARS-CoV-2_nsp12","c":"SARS-CoV-2_nsp05","v":0.32},{"r":"SARS-CoV-2_nsp12","c":"SARS-CoV-1_nsp05","v":0.32},{"r":"SARS-CoV-2_nsp12","c":"HCoV-NL63_nsp05","v":0.32},{"r":"SARS-CoV-2_nsp12","c":"HCoV-229E_nsp05","v":0.32},{"r":"SARS-CoV-2_nsp12","c":"MERS-CoV_nsp05","v":0.32},{"r":"SARS-CoV-2_nsp12","c":"HCoV-OC43_nsp05","v":0.32},{"r":"SARS-CoV-2_nsp12","c":"SARS-CoV-2_nsp03","v":0.435},{"r":"SARS-CoV-2_nsp12","c":"SARS-CoV-1_nsp03","v":0.435},{"r":"SARS-CoV-2_nsp12","c":"MERS-CoV_nsp03","v":0.435},{"r":"SARS-CoV-2_nsp12","c":"HCoV-OC43_nsp03","v":0.435},{"r":"SARS-CoV-2_nsp12","c":"HCoV-NL63_nsp03","v":0.48},{"r":"SARS-CoV-2_nsp12","c":"HCoV-229E_nsp03","v":0.48},{"r":"SARS-CoV-2_nsp12","c":"HCoV-NL63_nsp12","v":0.65},{"r":"SARS-CoV-2_nsp12","c":"HCoV-229E_nsp12","v":0.65},{"r":"SARS-CoV-2_nsp12","c":"SARS-CoV-2_nsp12","v":1},{"r":"SARS-CoV-2_nsp12","c":"SARS-CoV-1_nsp12","v":0.88},{"r":"SARS-CoV-2_nsp12","c":"MERS-CoV_nsp12","v":0.7},{"r":"SARS-CoV-2_nsp12","c":"HCoV-OC43_nsp12","v":0.69},{"r":"SARS-CoV-2_nsp12","c":"HCoV-NL63_nsp13","v":0.49},{"r":"SARS-CoV-2_nsp12","c":"HCoV-229E_nsp13","v":0.49},{"r":"SARS-CoV-2_nsp12","c":"SARS-CoV-2_nsp13","v":0.49},{"r":"SARS-CoV-2_nsp12","c":"SARS-CoV-1_nsp13","v":0.49},{"r":"SARS-CoV-2_nsp12","c":"MERS-CoV_nsp13","v":0.49},{"r":"SARS-CoV-2_nsp12","c":"HCoV-OC43_nsp13","v":0.49},
{"r":"SARS-CoV-1_nsp12","c":"SARS-CoV-2_nsp05","v":0.32},{"r":"SARS-CoV-1_nsp12","c":"SARS-CoV-1_nsp05","v":0.32},{"r":"SARS-CoV-1_nsp12","c":"HCoV-NL63_nsp05","v":0.32},{"r":"SARS-CoV-1_nsp12","c":"HCoV-229E_nsp05","v":0.32},{"r":"SARS-CoV-1_nsp12","c":"MERS-CoV_nsp05","v":0.32},{"r":"SARS-CoV-1_nsp12","c":"HCoV-OC43_nsp05","v":0.32},{"r":"SARS-CoV-1_nsp12","c":"SARS-CoV-2_nsp03","v":0.435},{"r":"SARS-CoV-1_nsp12","c":"SARS-CoV-1_nsp03","v":0.435},{"r":"SARS-CoV-1_nsp12","c":"MERS-CoV_nsp03","v":0.435},{"r":"SARS-CoV-1_nsp12","c":"HCoV-OC43_nsp03","v":0.435},{"r":"SARS-CoV-1_nsp12","c":"HCoV-NL63_nsp03","v":0.48},{"r":"SARS-CoV-1_nsp12","c":"HCoV-229E_nsp03","v":0.48},{"r":"SARS-CoV-1_nsp12","c":"HCoV-NL63_nsp12","v":0.65},{"r":"SARS-CoV-1_nsp12","c":"HCoV-229E_nsp12","v":0.65},{"r":"SARS-CoV-1_nsp12","c":"SARS-CoV-2_nsp12","v":0.88},{"r":"SARS-CoV-1_nsp12","c":"SARS-CoV-1_nsp12","v":1},{"r":"SARS-CoV-1_nsp12","c":"MERS-CoV_nsp12","v":0.69},{"r":"SARS-CoV-1_nsp12","c":"HCoV-OC43_nsp12","v":0.69},{"r":"SARS-CoV-1_nsp12","c":"HCoV-NL63_nsp13","v":0.49},{"r":"SARS-CoV-1_nsp12","c":"HCoV-229E_nsp13","v":0.49},{"r":"SARS-CoV-1_nsp12","c":"SARS-CoV-2_nsp13","v":0.49},{"r":"SARS-CoV-1_nsp12","c":"SARS-CoV-1_nsp13","v":0.49},{"r":"SARS-CoV-1_nsp12","c":"MERS-CoV_nsp13","v":0.49},{"r":"SARS-CoV-1_nsp12","c":"HCoV-OC43_nsp13","v":0.49},
{"r":"MERS-CoV_nsp12","c":"SARS-CoV-2_nsp05","v":0.31},{"r":"MERS-CoV_nsp12","c":"SARS-CoV-1_nsp05","v":0.31},{"r":"MERS-CoV_nsp12","c":"HCoV-NL63_nsp05","v":0.31},{"r":"MERS-CoV_nsp12","c":"HCoV-229E_nsp05","v":0.31},{"r":"MERS-CoV_nsp12","c":"MERS-CoV_nsp05","v":0.31},{"r":"MERS-CoV_nsp12","c":"HCoV-OC43_nsp05","v":0.31},{"r":"MERS-CoV_nsp12","c":"SARS-CoV-2_nsp03","v":0.435},{"r":"MERS-CoV_nsp12","c":"SARS-CoV-1_nsp03","v":0.435},{"r":"MERS-CoV_nsp12","c":"MERS-CoV_nsp03","v":0.435},{"r":"MERS-CoV_nsp12","c":"HCoV-OC43_nsp03","v":0.435},{"r":"MERS-CoV_nsp12","c":"HCoV-NL63_nsp03","v":0.48},{"r":"MERS-CoV_nsp12","c":"HCoV-229E_nsp03","v":0.48},{"r":"MERS-CoV_nsp12","c":"HCoV-NL63_nsp12","v":0.65},{"r":"MERS-CoV_nsp12","c":"HCoV-229E_nsp12","v":0.65},{"r":"MERS-CoV_nsp12","c":"SARS-CoV-2_nsp12","v":0.7},{"r":"MERS-CoV_nsp12","c":"SARS-CoV-1_nsp12","v":0.69},{"r":"MERS-CoV_nsp12","c":"MERS-CoV_nsp12","v":1},{"r":"MERS-CoV_nsp12","c":"HCoV-OC43_nsp12","v":0.7},{"r":"MERS-CoV_nsp12","c":"HCoV-NL63_nsp13","v":0.49},{"r":"MERS-CoV_nsp12","c":"HCoV-229E_nsp13","v":0.49},{"r":"MERS-CoV_nsp12","c":"SARS-CoV-2_nsp13","v":0.49},{"r":"MERS-CoV_nsp12","c":"SARS-CoV-1_nsp13","v":0.49},{"r":"MERS-CoV_nsp12","c":"MERS-CoV_nsp13","v":0.49},{"r":"MERS-CoV_nsp12","c":"HCoV-OC43_nsp13","v":0.49},
{"r":"HCoV-OC43_nsp12","c":"SARS-CoV-2_nsp05","v":0.32},{"r":"HCoV-OC43_nsp12","c":"SARS-CoV-1_nsp05","v":0.32},{"r":"HCoV-OC43_nsp12","c":"HCoV-NL63_nsp05","v":0.32},{"r":"HCoV-OC43_nsp12","c":"HCoV-229E_nsp05","v":0.32},{"r":"HCoV-OC43_nsp12","c":"MERS-CoV_nsp05","v":0.32},{"r":"HCoV-OC43_nsp12","c":"HCoV-OC43_nsp05","v":0.32},{"r":"HCoV-OC43_nsp12","c":"SARS-CoV-2_nsp03","v":0.435},{"r":"HCoV-OC43_nsp12","c":"SARS-CoV-1_nsp03","v":0.435},{"r":"HCoV-OC43_nsp12","c":"MERS-CoV_nsp03","v":0.435},{"r":"HCoV-OC43_nsp12","c":"HCoV-OC43_nsp03","v":0.435},{"r":"HCoV-OC43_nsp12","c":"HCoV-NL63_nsp03","v":0.48},{"r":"HCoV-OC43_nsp12","c":"HCoV-229E_nsp03","v":0.48},{"r":"HCoV-OC43_nsp12","c":"HCoV-NL63_nsp12","v":0.65},{"r":"HCoV-OC43_nsp12","c":"HCoV-229E_nsp12","v":0.65},{"r":"HCoV-OC43_nsp12","c":"SARS-CoV-2_nsp12","v":0.69},{"r":"HCoV-OC43_nsp12","c":"SARS-CoV-1_nsp12","v":0.69},{"r":"HCoV-OC43_nsp12","c":"MERS-CoV_nsp12","v":0.7},{"r":"HCoV-OC43_nsp12","c":"HCoV-OC43_nsp12","v":1},{"r":"HCoV-OC43_nsp12","c":"HCoV-NL63_nsp13","v":0.49},{"r":"HCoV-OC43_nsp12","c":"HCoV-229E_nsp13","v":0.49},{"r":"HCoV-OC43_nsp12","c":"SARS-CoV-2_nsp13","v":0.49},{"r":"HCoV-OC43_nsp12","c":"SARS-CoV-1_nsp13","v":0.49},{"r":"HCoV-OC43_nsp12","c":"MERS-CoV_nsp13","v":0.49},{"r":"HCoV-OC43_nsp12","c":"HCoV-OC43_nsp13","v":0.49},
{"r":"HCoV-NL63_nsp13","c":"SARS-CoV-2_nsp05","v":0.44},{"r":"HCoV-NL63_nsp13","c":"SARS-CoV-1_nsp05","v":0.44},{"r":"HCoV-NL63_nsp13","c":"HCoV-NL63_nsp05","v":0.44},{"r":"HCoV-NL63_nsp13","c":"HCoV-229E_nsp05","v":0.44},{"r":"HCoV-NL63_nsp13","c":"MERS-CoV_nsp05","v":0.44},{"r":"HCoV-NL63_nsp13","c":"HCoV-OC43_nsp05","v":0.44},{"r":"HCoV-NL63_nsp13","c":"SARS-CoV-2_nsp03","v":0.3},{"r":"HCoV-NL63_nsp13","c":"SARS-CoV-1_nsp03","v":0.3},{"r":"HCoV-NL63_nsp13","c":"MERS-CoV_nsp03","v":0.3},{"r":"HCoV-NL63_nsp13","c":"HCoV-OC43_nsp03","v":0.3},{"r":"HCoV-NL63_nsp13","c":"HCoV-NL63_nsp03","v":0.35},{"r":"HCoV-NL63_nsp13","c":"HCoV-229E_nsp03","v":0.35},{"r":"HCoV-NL63_nsp13","c":"HCoV-NL63_nsp12","v":0.49},{"r":"HCoV-NL63_nsp13","c":"HCoV-229E_nsp12","v":0.49},{"r":"HCoV-NL63_nsp13","c":"SARS-CoV-2_nsp12","v":0.49},{"r":"HCoV-NL63_nsp13","c":"SARS-CoV-1_nsp12","v":0.49},{"r":"HCoV-NL63_nsp13","c":"MERS-CoV_nsp12","v":0.49},{"r":"HCoV-NL63_nsp13","c":"HCoV-OC43_nsp12","v":0.49},{"r":"HCoV-NL63_nsp13","c":"HCoV-NL63_nsp13","v":1},{"r":"HCoV-NL63_nsp13","c":"HCoV-229E_nsp13","v":0.79},{"r":"HCoV-NL63_nsp13","c":"SARS-CoV-2_nsp13","v":0.66},{"r":"HCoV-NL63_nsp13","c":"SARS-CoV-1_nsp13","v":0.66},{"r":"HCoV-NL63_nsp13","c":"MERS-CoV_nsp13","v":0.66},{"r":"HCoV-NL63_nsp13","c":"HCoV-OC43_nsp13","v":0.66},
{"r":"HCoV-229E_nsp13","c":"SARS-CoV-2_nsp05","v":0.44},{"r":"HCoV-229E_nsp13","c":"SARS-CoV-1_nsp05","v":0.44},{"r":"HCoV-229E_nsp13","c":"HCoV-NL63_nsp05","v":0.44},{"r":"HCoV-229E_nsp13","c":"HCoV-229E_nsp05","v":0.44},{"r":"HCoV-229E_nsp13","c":"MERS-CoV_nsp05","v":0.44},{"r":"HCoV-229E_nsp13","c":"HCoV-OC43_nsp05","v":0.44},{"r":"HCoV-229E_nsp13","c":"SARS-CoV-2_nsp03","v":0.3},{"r":"HCoV-229E_nsp13","c":"SARS-CoV-1_nsp03","v":0.3},{"r":"HCoV-229E_nsp13","c":"MERS-CoV_nsp03","v":0.3},{"r":"HCoV-229E_nsp13","c":"HCoV-OC43_nsp03","v":0.3},{"r":"HCoV-229E_nsp13","c":"HCoV-NL63_nsp03","v":0.35},{"r":"HCoV-229E_nsp13","c":"HCoV-229E_nsp03","v":0.35},{"r":"HCoV-229E_nsp13","c":"HCoV-NL63_nsp12","v":0.49},{"r":"HCoV-229E_nsp13","c":"HCoV-229E_nsp12","v":0.49},{"r":"HCoV-229E_nsp13","c":"SARS-CoV-2_nsp12","v":0.49},{"r":"HCoV-229E_nsp13","c":"SARS-CoV-1_nsp12","v":0.49},{"r":"HCoV-229E_nsp13","c":"MERS-CoV_nsp12","v":0.49},{"r":"HCoV-229E_nsp13","c":"HCoV-OC43_nsp12","v":0.49},{"r":"HCoV-229E_nsp13","c":"HCoV-NL63_nsp13","v":0.79},{"r":"HCoV-229E_nsp13","c":"HCoV-229E_nsp13","v":1},{"r":"HCoV-229E_nsp13","c":"SARS-CoV-2_nsp13","v":0.65},{"r":"HCoV-229E_nsp13","c":"SARS-CoV-1_nsp13","v":0.65},{"r":"HCoV-229E_nsp13","c":"MERS-CoV_nsp13","v":0.65},{"r":"HCoV-229E_nsp13","c":"HCoV-OC43_nsp13","v":0.65},
{"r":"SARS-CoV-2_nsp13","c":"SARS-CoV-2_nsp05","v":0.44},{"r":"SARS-CoV-2_nsp13","c":"SARS-CoV-1_nsp05","v":0.44},{"r":"SARS-CoV-2_nsp13","c":"HCoV-NL63_nsp05","v":0.44},{"r":"SARS-CoV-2_nsp13","c":"HCoV-229E_nsp05","v":0.44},{"r":"SARS-CoV-2_nsp13","c":"MERS-CoV_nsp05","v":0.44},{"r":"SARS-CoV-2_nsp13","c":"HCoV-OC43_nsp05","v":0.44},{"r":"SARS-CoV-2_nsp13","c":"SARS-CoV-2_nsp03","v":0.3},{"r":"SARS-CoV-2_nsp13","c":"SARS-CoV-1_nsp03","v":0.3},{"r":"SARS-CoV-2_nsp13","c":"MERS-CoV_nsp03","v":0.3},{"r":"SARS-CoV-2_nsp13","c":"HCoV-OC43_nsp03","v":0.3},{"r":"SARS-CoV-2_nsp13","c":"HCoV-NL63_nsp03","v":0.35},{"r":"SARS-CoV-2_nsp13","c":"HCoV-229E_nsp03","v":0.35},{"r":"SARS-CoV-2_nsp13","c":"HCoV-NL63_nsp12","v":0.49},{"r":"SARS-CoV-2_nsp13","c":"HCoV-229E_nsp12","v":0.49},{"r":"SARS-CoV-2_nsp13","c":"SARS-CoV-2_nsp12","v":0.49},{"r":"SARS-CoV-2_nsp13","c":"SARS-CoV-1_nsp12","v":0.49},{"r":"SARS-CoV-2_nsp13","c":"MERS-CoV_nsp12","v":0.49},{"r":"SARS-CoV-2_nsp13","c":"HCoV-OC43_nsp12","v":0.49},{"r":"SARS-CoV-2_nsp13","c":"HCoV-NL63_nsp13","v":0.66},{"r":"SARS-CoV-2_nsp13","c":"HCoV-229E_nsp13","v":0.65},{"r":"SARS-CoV-2_nsp13","c":"SARS-CoV-2_nsp13","v":1},{"r":"SARS-CoV-2_nsp13","c":"SARS-CoV-1_nsp13","v":0.88},{"r":"SARS-CoV-2_nsp13","c":"MERS-CoV_nsp13","v":0.7},{"r":"SARS-CoV-2_nsp13","c":"HCoV-OC43_nsp13","v":0.69},
{"r":"SARS-CoV-1_nsp13","c":"SARS-CoV-2_nsp05","v":0.44},{"r":"SARS-CoV-1_nsp13","c":"SARS-CoV-1_nsp05","v":0.44},{"r":"SARS-CoV-1_nsp13","c":"HCoV-NL63_nsp05","v":0.44},{"r":"SARS-CoV-1_nsp13","c":"HCoV-229E_nsp05","v":0.44},{"r":"SARS-CoV-1_nsp13","c":"MERS-CoV_nsp05","v":0.44},{"r":"SARS-CoV-1_nsp13","c":"HCoV-OC43_nsp05","v":0.44},{"r":"SARS-CoV-1_nsp13","c":"SARS-CoV-2_nsp03","v":0.3},{"r":"SARS-CoV-1_nsp13","c":"SARS-CoV-1_nsp03","v":0.3},{"r":"SARS-CoV-1_nsp13","c":"MERS-CoV_nsp03","v":0.3},{"r":"SARS-CoV-1_nsp13","c":"HCoV-OC43_nsp03","v":0.3},{"r":"SARS-CoV-1_nsp13","c":"HCoV-NL63_nsp03","v":0.35},{"r":"SARS-CoV-1_nsp13","c":"HCoV-229E_nsp03","v":0.35},{"r":"SARS-CoV-1_nsp13","c":"HCoV-NL63_nsp12","v":0.49},{"r":"SARS-CoV-1_nsp13","c":"HCoV-229E_nsp12","v":0.49},{"r":"SARS-CoV-1_nsp13","c":"SARS-CoV-2_nsp12","v":0.49},{"r":"SARS-CoV-1_nsp13","c":"SARS-CoV-1_nsp12","v":0.49},{"r":"SARS-CoV-1_nsp13","c":"MERS-CoV_nsp12","v":0.49},{"r":"SARS-CoV-1_nsp13","c":"HCoV-OC43_nsp12","v":0.49},{"r":"SARS-CoV-1_nsp13","c":"HCoV-NL63_nsp13","v":0.66},{"r":"SARS-CoV-1_nsp13","c":"HCoV-229E_nsp13","v":0.65},{"r":"SARS-CoV-1_nsp13","c":"SARS-CoV-2_nsp13","v":0.88},{"r":"SARS-CoV-1_nsp13","c":"SARS-CoV-1_nsp13","v":1},{"r":"SARS-CoV-1_nsp13","c":"MERS-CoV_nsp13","v":0.69},{"r":"SARS-CoV-1_nsp13","c":"HCoV-OC43_nsp13","v":0.69},
{"r":"MERS-CoV_nsp13","c":"SARS-CoV-2_nsp05","v":0.44},{"r":"MERS-CoV_nsp13","c":"SARS-CoV-1_nsp05","v":0.44},{"r":"MERS-CoV_nsp13","c":"HCoV-NL63_nsp05","v":0.44},{"r":"MERS-CoV_nsp13","c":"HCoV-229E_nsp05","v":0.44},{"r":"MERS-CoV_nsp13","c":"MERS-CoV_nsp05","v":0.44},{"r":"MERS-CoV_nsp13","c":"HCoV-OC43_nsp05","v":0.44},{"r":"MERS-CoV_nsp13","c":"SARS-CoV-2_nsp03","v":0.3},{"r":"MERS-CoV_nsp13","c":"SARS-CoV-1_nsp03","v":0.3},{"r":"MERS-CoV_nsp13","c":"MERS-CoV_nsp03","v":0.3},{"r":"MERS-CoV_nsp13","c":"HCoV-OC43_nsp03","v":0.3},{"r":"MERS-CoV_nsp13","c":"HCoV-NL63_nsp03","v":0.35},{"r":"MERS-CoV_nsp13","c":"HCoV-229E_nsp03","v":0.35},{"r":"MERS-CoV_nsp13","c":"HCoV-NL63_nsp12","v":0.49},{"r":"MERS-CoV_nsp13","c":"HCoV-229E_nsp12","v":0.49},{"r":"MERS-CoV_nsp13","c":"SARS-CoV-2_nsp12","v":0.49},{"r":"MERS-CoV_nsp13","c":"SARS-CoV-1_nsp12","v":0.49},{"r":"MERS-CoV_nsp13","c":"MERS-CoV_nsp12","v":0.49},{"r":"MERS-CoV_nsp13","c":"HCoV-OC43_nsp12","v":0.49},{"r":"MERS-CoV_nsp13","c":"HCoV-NL63_nsp13","v":0.66},{"r":"MERS-CoV_nsp13","c":"HCoV-229E_nsp13","v":0.65},{"r":"MERS-CoV_nsp13","c":"SARS-CoV-2_nsp13","v":0.7},{"r":"MERS-CoV_nsp13","c":"SARS-CoV-1_nsp13","v":0.69},{"r":"MERS-CoV_nsp13","c":"MERS-CoV_nsp13","v":1},{"r":"MERS-CoV_nsp13","c":"HCoV-OC43_nsp13","v":0.69},
{"r":"HCoV-OC43_nsp13","c":"SARS-CoV-2_nsp05","v":0.44},{"r":"HCoV-OC43_nsp13","c":"SARS-CoV-1_nsp05","v":0.44},{"r":"HCoV-OC43_nsp13","c":"HCoV-NL63_nsp05","v":0.44},{"r":"HCoV-OC43_nsp13","c":"HCoV-229E_nsp05","v":0.44},{"r":"HCoV-OC43_nsp13","c":"MERS-CoV_nsp05","v":0.44},{"r":"HCoV-OC43_nsp13","c":"HCoV-OC43_nsp05","v":0.44},{"r":"HCoV-OC43_nsp13","c":"SARS-CoV-2_nsp03","v":0.3},{"r":"HCoV-OC43_nsp13","c":"SARS-CoV-1_nsp03","v":0.3},{"r":"HCoV-OC43_nsp13","c":"MERS-CoV_nsp03","v":0.3},{"r":"HCoV-OC43_nsp13","c":"HCoV-OC43_nsp03","v":0.3},{"r":"HCoV-OC43_nsp13","c":"HCoV-NL63_nsp03","v":0.35},{"r":"HCoV-OC43_nsp13","c":"HCoV-229E_nsp03","v":0.35},{"r":"HCoV-OC43_nsp13","c":"HCoV-NL63_nsp12","v":0.49},{"r":"HCoV-OC43_nsp13","c":"HCoV-229E_nsp12","v":0.49},{"r":"HCoV-OC43_nsp13","c":"SARS-CoV-2_nsp12","v":0.49},{"r":"HCoV-OC43_nsp13","c":"SARS-CoV-1_nsp12","v":0.49},{"r":"HCoV-OC43_nsp13","c":"MERS-CoV_nsp12","v":0.49},{"r":"HCoV-OC43_nsp13","c":"HCoV-OC43_nsp12","v":0.49},{"r":"HCoV-OC43_nsp13","c":"HCoV-NL63_nsp13","v":0.66},{"r":"HCoV-OC43_nsp13","c":"HCoV-229E_nsp13","v":0.65},{"r":"HCoV-OC43_nsp13","c":"SARS-CoV-2_nsp13","v":0.69},{"r":"HCoV-OC43_nsp13","c":"SARS-CoV-1_nsp13","v":0.69},{"r":"HCoV-OC43_nsp13","c":"MERS-CoV_nsp13","v":0.69},{"r":"HCoV-OC43_nsp13","c":"HCoV-OC43_nsp13","v":1}
]
},
"vconcat":[
{"width":621,"height":57,"data":{"name":"dend"},"mark":{"type":"rule","color":"#5a5a5a","strokeWidth":1},
 "encoding":{"x":{"field":"p1","type":"quantitative","scale":{"domain":[-2.4255,24],"nice":false,"zero":false},"axis":null},"x2":{"field":"p2"},"y":{"field":"h1","type":"quantitative","scale":{"domain":[0,57],"nice":false,"zero":false},"axis":null},"y2":{"field":"h2"}}},
{"hconcat":[
 {"width":57,"height":440,"data":{"name":"dend"},"mark":{"type":"rule","color":"#5a5a5a","strokeWidth":1},
  "encoding":{"y":{"field":"p1","type":"quantitative","scale":{"domain":[0,24],"reverse":true,"nice":false,"zero":false},"axis":null},"y2":{"field":"p2"},"x":{"field":"h1","type":"quantitative","scale":{"domain":[0,58.75],"reverse":true,"nice":false,"zero":false},"axis":null},"x2":{"field":"h2"}}},
 {"width":564,"height":440,"data":{"name":"cells"},"mark":{"type":"rect","stroke":"#a3a3a3","strokeWidth":1},
  "encoding":{
   "x":{"field":"c","type":"nominal","sort":["SARS-CoV-2_nsp05","SARS-CoV-1_nsp05","HCoV-NL63_nsp05","HCoV-229E_nsp05","MERS-CoV_nsp05","HCoV-OC43_nsp05","SARS-CoV-2_nsp03","SARS-CoV-1_nsp03","MERS-CoV_nsp03","HCoV-OC43_nsp03","HCoV-NL63_nsp03","HCoV-229E_nsp03","HCoV-NL63_nsp12","HCoV-229E_nsp12","SARS-CoV-2_nsp12","SARS-CoV-1_nsp12","MERS-CoV_nsp12","HCoV-OC43_nsp12","HCoV-NL63_nsp13","HCoV-229E_nsp13","SARS-CoV-2_nsp13","SARS-CoV-1_nsp13","MERS-CoV_nsp13","HCoV-OC43_nsp13"],"scale":{"paddingInner":0,"paddingOuter":0},"axis":{"orient":"bottom","title":null,"labelAngle":90,"domain":false,"ticks":false,"labelPadding":5}},
   "y":{"field":"r","type":"nominal","sort":["SARS-CoV-2_nsp05","SARS-CoV-1_nsp05","HCoV-NL63_nsp05","HCoV-229E_nsp05","MERS-CoV_nsp05","HCoV-OC43_nsp05","SARS-CoV-2_nsp03","SARS-CoV-1_nsp03","MERS-CoV_nsp03","HCoV-OC43_nsp03","HCoV-NL63_nsp03","HCoV-229E_nsp03","HCoV-NL63_nsp12","HCoV-229E_nsp12","SARS-CoV-2_nsp12","SARS-CoV-1_nsp12","MERS-CoV_nsp12","HCoV-OC43_nsp12","HCoV-NL63_nsp13","HCoV-229E_nsp13","SARS-CoV-2_nsp13","SARS-CoV-1_nsp13","MERS-CoV_nsp13","HCoV-OC43_nsp13"],"scale":{"paddingInner":0,"paddingOuter":0},"axis":{"orient":"right","title":null,"domain":false,"ticks":false,"labelPadding":4}},
   "color":{"field":"v","type":"quantitative","scale":{"domain":[0.165,0.3042,0.4433,0.5825,0.7217,0.8608,1],"range":["#4575B4","#91BFDB","#E0F3F8","#FFFFBF","#FEE090","#FC8D59","#D73027"],"interpolate":"rgb"},
    "legend":{"title":null,"orient":"none","legendX":729,"legendY":56,"gradientLength":163,"gradientThickness":9,"values":[0.2,0.4,0.6,0.8,1],"format":"~g","labelFontSize":10.5,"labelColor":"black","gradientStrokeWidth":0,"labelOffset":4}}
  }}
]}
]
}
